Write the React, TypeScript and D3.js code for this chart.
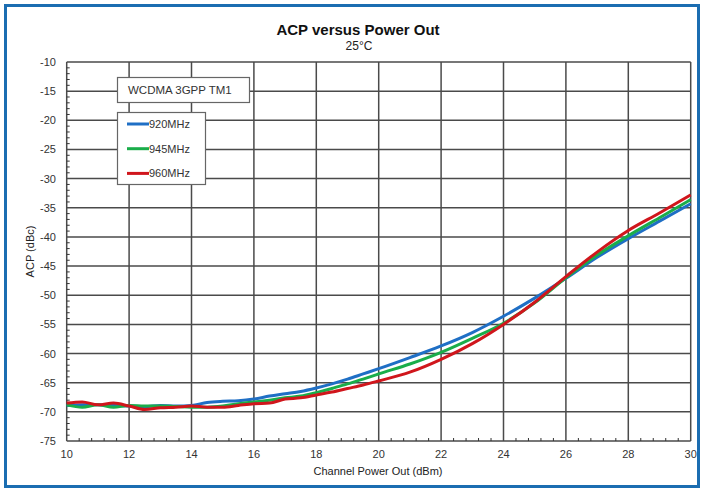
import React from "react";
import * as d3 from "d3";

const xsLow = [10, 10.5, 11, 11.5, 12, 12.5, 13, 13.5, 14, 14.5, 15, 15.5, 16, 16.5, 17, 17.5, 18, 18.5, 19, 19.5, 20, 21, 22, 23, 24, 25, 26, 27, 28, 29, 30];
const blue920 = [-68.9, -68.8, -68.8, -68.9, -69.0, -69.1, -68.9, -69.0, -68.9, -68.4, -68.2, -68.1, -67.8, -67.3, -66.9, -66.5, -65.9, -65.2, -64.4, -63.5, -62.6, -60.7, -58.7, -56.4, -53.6, -50.5, -47.1, -43.5, -40.3, -37.3, -34.3];
const green945 = [-68.8, -69.2, -68.8, -69.2, -68.9, -69.0, -69.0, -69.1, -69.2, -69.2, -69.0, -68.6, -68.3, -68.0, -67.6, -67.3, -66.7, -66.0, -65.2, -64.4, -63.5, -61.8, -59.8, -57.4, -54.8, -51.3, -47.0, -43.1, -39.8, -36.7, -33.6];
const red960 = [-68.5, -68.3, -68.8, -68.5, -69.0, -69.6, -69.3, -69.2, -69.0, -69.2, -69.2, -68.9, -68.6, -68.5, -67.8, -67.6, -67.1, -66.6, -66.0, -65.4, -64.7, -63.2, -61.0, -58.3, -55.0, -51.2, -46.8, -42.6, -38.9, -35.9, -32.8];

const seriesNames = ["920MHz", "945MHz", "960MHz"];
const xTicks = [10, 12, 14, 16, 18, 20, 22, 24, 26, 28, 30];
const yTicks = [-10, -15, -20, -25, -30, -35, -40, -45, -50, -55, -60, -65, -70, -75];

const FONT = "'Liberation Sans', Arial, sans-serif";

export default function App() {
  const W = 702, H = 489;
  const x = d3.scaleLinear().domain([10, 30]).range([66.7, 690.7]);
  const y = d3.scaleLinear().domain([-75, -10]).range([441, 62]);
  const colors = ["#1f6fc5", "#1aad4a", "#d0161c"];
  const data = [blue920, green945, red960];
  const line = d3
    .line<[number, number]>()
    .x((d) => x(d[0]))
    .y((d) => y(d[1]))
    .curve(d3.curveMonotoneX);

  const xMinor = d3.range(10, 30.001, 0.4).filter((v) => Math.abs(v / 2 - Math.round(v / 2)) > 0.01);
  const yMinor = d3.range(-75, -10, 1).filter((v) => v % 5 !== 0);

  const grid = "#4a4a4a";

  return (
    <svg width={W} height={H} style={{ position: "absolute", left: 0, top: 0, display: "block" }}>
      <rect x={0} y={0} width={W} height={H} fill="#fff" />
      <rect x={5.5} y={5.5} width={693} height={481} fill="#fff" stroke="#1b6db1" strokeWidth={3} />
      <text x={358} y={35} textAnchor="middle" fontFamily={FONT} fontWeight="bold" fontSize={15} fill="#111">
        ACP versus Power Out
      </text>
      <text x={359} y={50} textAnchor="middle" fontFamily={FONT} fontSize={12} fill="#222">
        25°C
      </text>
      {/* grid */}
      {xTicks.map((t) => (
        <line key={"gx" + t} x1={x(t)} x2={x(t)} y1={y(-10)} y2={y(-75)} stroke={grid} strokeWidth={1.5} />
      ))}
      {yTicks.map((t) => (
        <line key={"gy" + t} x1={x(10)} x2={x(30)} y1={y(t)} y2={y(t)} stroke={grid} strokeWidth={1.5} />
      ))}
      {/* minor ticks */}
      {xMinor.map((t, i) => (
        <line key={"mx" + i} x1={x(t)} x2={x(t)} y1={y(-75)} y2={y(-75) - 3} stroke="#333" strokeWidth={1} />
      ))}
      {yMinor.map((t) => (
        <line key={"my" + t} x1={x(10)} x2={x(10) + 3} y1={y(t)} y2={y(t)} stroke="#333" strokeWidth={1} />
      ))}
      {/* tick labels */}
      {xTicks.map((t) => (
        <text key={"tx" + t} x={x(t)} y={458} textAnchor="middle" fontFamily={FONT} fontSize={11} fill="#333">
          {t}
        </text>
      ))}
      {yTicks.map((t) => (
        <text key={"ty" + t} x={56} y={y(t) + 4} textAnchor="end" fontFamily={FONT} fontSize={11} fill="#333">
          {t}
        </text>
      ))}
      <text x={378} y={475} textAnchor="middle" fontFamily={FONT} fontSize={11} fill="#222">
        Channel Power Out (dBm)
      </text>
      <text
        transform={`translate(34,${y(-42.5)}) rotate(-90)`}
        textAnchor="middle"
        fontFamily={FONT}
        fontSize={11}
        fill="#222"
      >
        ACP (dBc)
      </text>
      {/* curves */}
      {data.map((vals, i) => (
        <path
          key={"s" + i}
          d={line(xsLow.map((v, j) => [v, vals[j]] as [number, number])) || ""}
          fill="none"
          stroke={colors[i]}
          strokeWidth={3}
          strokeLinejoin="round"
        />
      ))}
      {/* annotation boxes */}
      <rect x={117.5} y={77.5} width={132} height={25} fill="#fff" stroke="#666" strokeWidth={1.2} />
      <text x={128} y={94} fontFamily={FONT} fontSize={11.5} fill="#333">
        WCDMA 3GPP TM1
      </text>
      <rect x={117.5} y={112.5} width={88} height={72} fill="#fff" stroke="#666" strokeWidth={1.2} />
      {seriesNames.map((n, i) => (
        <g key={n}>
          <line x1={127} x2={149} y1={124 + i * 24.7} y2={124 + i * 24.7} stroke={colors[i]} strokeWidth={3} />
          <text x={149} y={128 + i * 24.7} fontFamily={FONT} fontSize={11} fill="#333">
            {n}
          </text>
        </g>
      ))}
    </svg>
  );
}
